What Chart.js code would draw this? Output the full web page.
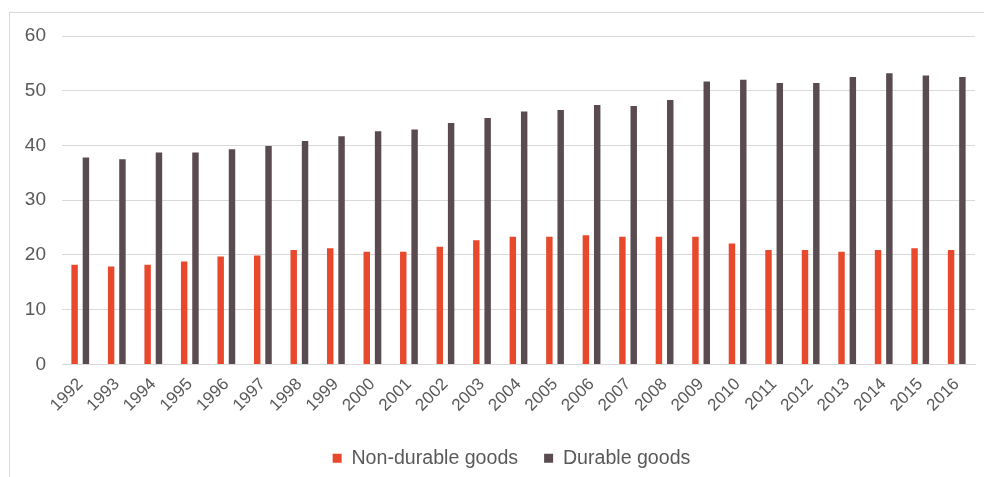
<!DOCTYPE html>
<html>
<head>
<meta charset="utf-8">
<script src="https://cdn.jsdelivr.net/npm/chart.js@4.4.0/dist/chart.umd.min.js"></script>
<style>
  html, body { margin: 0; padding: 0; background: #fff; overflow: hidden; }
  #page { position: relative; width: 984px; height: 477px; overflow: hidden; }
  #frame { position: absolute; left: 9px; top: 12px; width: 1000px; height: 500px;
           border-left: 1px solid #d9d9d9; border-top: 1px solid #d9d9d9; }
  #wrap { position: absolute; left: 0; top: 0; width: 984px; height: 500px; }
</style>
</head>
<body>
<div id="page">
  <div id="frame"></div>
  <div id="wrap"><canvas id="chart"></canvas></div>
</div>
<script>
const years = ["1992", "1993", "1994", "1995", "1996", "1997", "1998", "1999", "2000", "2001",
  "2002", "2003", "2004", "2005", "2006", "2007", "2008", "2009", "2010", "2011",
  "2012", "2013", "2014", "2015", "2016"];

const nonDurable = [18.2, 17.9, 18.2, 18.8, 19.7, 19.9, 20.9, 21.2, 20.6, 20.6,
  21.5, 22.7, 23.3, 23.3, 23.6, 23.3, 23.3, 23.3, 22.1, 20.9,
  20.9, 20.6, 20.9, 21.2, 20.9];

const durable = [37.8, 37.5, 38.7, 38.7, 39.3, 39.9, 40.8, 41.7, 42.6, 42.9,
  44.1, 45.0, 46.2, 46.5, 47.4, 47.2, 48.3, 51.7, 52.0, 51.4,
  51.4, 52.5, 53.2, 52.8, 52.5];

const yTicks = [0, 10, 20, 30, 40, 50, 60];

const textColor = "#595959";
const gridColor = "#d9d9d9";
const fontFamily = "'Liberation Sans', Arial, sans-serif";

// legend sits a bit right of canvas centre in the original
const legendShift = {
  id: "legendShift",
  afterLayout(chart) {
    chart.legend.left += 24;
    chart.legend.right += 24;
  }
};

const ctx = document.getElementById("chart").getContext("2d");

new Chart(ctx, {
  type: "bar",
  data: {
    labels: years,
    datasets: [
      {
        label: "Non-durable goods",
        data: nonDurable,
        backgroundColor: "#e8482c",
        categoryPercentage: 0.62,
        barPercentage: 0.57
      },
      {
        label: "Durable goods",
        data: durable,
        backgroundColor: "#5a4b50",
        categoryPercentage: 0.62,
        barPercentage: 0.57
      }
    ]
  },
  options: {
    responsive: true,
    maintainAspectRatio: false,
    animation: false,
    layout: {
      padding: { top: 36, right: 9, bottom: 22, left: 0 }
    },
    plugins: {
      legend: {
        position: "bottom",
        labels: {
          color: textColor,
          font: { family: fontFamily, size: 19.6 },
          boxWidth: 9,
          boxHeight: 9,
          padding: 26
        }
      },
      tooltip: { enabled: false }
    },
    scales: {
      x: {
        grid: { display: false },
        border: { display: true, color: gridColor },
        ticks: {
          color: textColor,
          font: { family: fontFamily, size: 17 },
          minRotation: 45,
          maxRotation: 45,
          autoSkip: false,
          padding: 2
        },
        afterFit: (scale) => { scale.height = 58; }
      },
      y: {
        min: 0,
        max: 60,
        afterBuildTicks: (scale) => { scale.ticks = yTicks.map(v => ({ value: v })); },
        grid: { color: gridColor, drawTicks: false },
        border: { display: false },
        ticks: {
          color: textColor,
          font: { family: fontFamily, size: 19 },
          padding: 16
        },
        afterFit: (scale) => { scale.width = 62; }
      }
    }
  },
  plugins: [legendShift]
});
</script>
</body>
</html>
